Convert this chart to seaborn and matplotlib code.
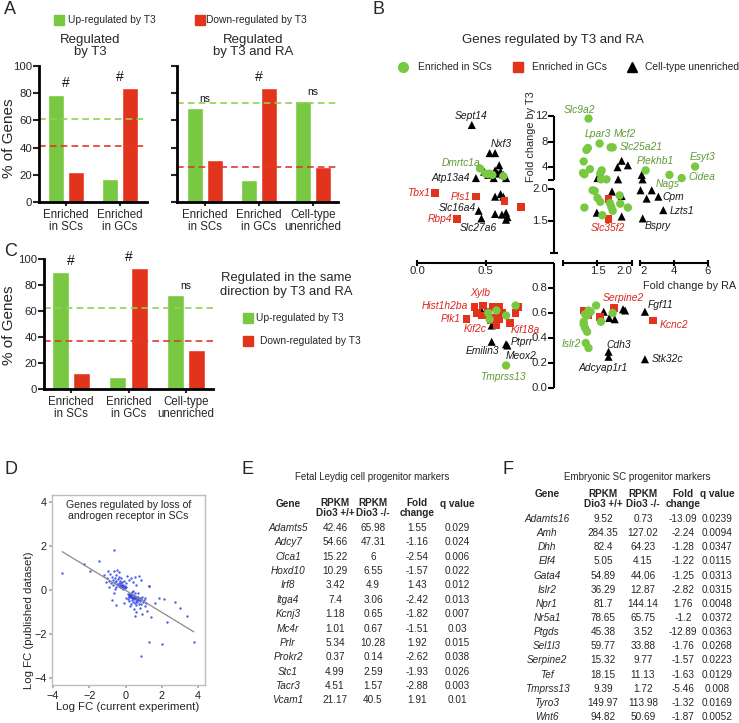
import numpy as np
import pandas as pd
import matplotlib
matplotlib.use("Agg")
import matplotlib.pyplot as plt
from matplotlib.lines import Line2D
import seaborn as sns

sns.set_theme(style="white")
plt.rcParams["font.family"] = ["Liberation Sans", "DejaVu Sans"]

# ---------------- DATA ----------------
GREEN = "#78c841"
RED = "#e2341d"
TXT_G = "#5e9a35"
TXT_R = "#d9261c"

# Panel A
a_cats = ["Enriched\nin SCs", "Enriched\nin GCs"]
a_up = [79, 17]
a_down = [22, 84]
a_base = [61, 41]
a_marks = ["#", "#"]

ar_cats = ["Enriched\nin SCs", "Enriched\nin GCs", "Cell-type\nunenriched"]
ar_up = [69, 16, 74]
ar_down = [31, 84, 26]
ar_base = [72.5, 26]
ar_marks = ["ns", "#", "ns"]

# Panel C
c_cats = ["Enriched\nin SCs", "Enriched\nin GCs", "Cell-type\nunenriched"]
c_up = [90, 9, 72]
c_down = [12, 93, 30]
c_base = [62, 37]
c_marks = ["#", "#", "ns"]

# Panel B (fold change by RA, fold change by T3)
sc_ra = [0.46, 0.50, 0.52, 0.53, 0.55, 0.63,
         1.37, 1.53, 1.69, 1.72, 1.34, 1.36, 1.30, 1.39, 1.29, 1.31, 1.56, 1.54, 1.63, 1.55,
         2.33, 3.73, 5.24, 4.45,
         1.43, 1.46, 1.54, 1.31, 1.68, 1.70, 1.72, 1.82, 1.83, 1.94, 1.57, 1.50,
         0.52, 0.53, 0.65, 0.72, 0.58, 0.65,
         1.48, 1.37, 1.40, 1.32, 1.35, 1.30, 1.30, 1.32, 1.35, 1.55, 1.72, 1.33, 1.37]
sc_t3 = [3.8, 3.0, 2.9, 3.0, 2.8, 2.6,
         11.6, 7.7, 7.1, 7.1, 6.7, 7.0, 4.9, 3.7, 3.1, 2.9, 3.5, 3.0, 2.1, 2.1,
         3.5, 2.8, 4.1, 2.3,
         1.98, 1.97, 1.80, 1.71, 1.78, 1.72, 1.66, 1.90, 1.77, 1.71, 1.59, 1.86,
         0.60, 0.55, 0.58, 0.66, 0.62, 0.18,
         0.66, 0.62, 0.61, 0.59, 0.58, 0.53, 0.51, 0.48, 0.45, 0.53, 0.60, 0.36, 0.32]
gc_ra = [0.13, 0.43, 0.29, 0.64, 0.76,
         1.66, 1.66,
         0.42, 0.36, 0.48, 0.44, 0.50, 0.55, 0.58, 0.60, 0.52, 0.56, 0.62, 0.54, 0.60,
         0.58, 0.68, 0.74, 0.72, 0.47,
         1.30, 1.74, 1.54, 1.36, 2.75]
gc_t3 = [1.94, 1.88, 1.53, 1.81, 1.72,
         1.84, 1.53,
         0.65, 0.55, 0.66, 0.60, 0.58, 0.65, 0.64, 0.65, 0.61, 0.56, 0.60, 0.54, 0.55,
         0.50, 0.52, 0.65, 0.60, 0.58,
         0.62, 0.64, 0.57, 0.58, 0.54]
un_ra = [0.40, 0.53, 0.57, 0.43, 0.49, 0.52, 0.57, 0.60, 0.61, 0.63, 0.65, 0.56, 0.59,
         0.45, 0.47, 0.57, 0.61, 0.63, 0.57, 0.62, 0.65, 0.66, 0.65,
         1.50, 1.79, 1.85, 1.94, 1.80, 2.10, 2.15,
         2.03, 2.69, 2.39, 3.08, 3.37, 2.16, 1.71, 1.85, 1.49, 1.85,
         0.545, 0.545, 0.65, 0.66, 0.47,
         1.59, 1.67, 1.75, 1.87, 1.90, 2.29, 1.66, 1.66, 2.29]
un_t3 = [10.6, 6.2, 6.2, 2.3, 3.3, 2.8, 3.5, 4.3, 3.3, 2.8, 2.3, 2.3, 3.0,
         1.66, 1.54, 1.88, 1.92, 1.88, 1.61, 1.60, 1.63, 1.56, 1.52,
         2.3, 4.0, 5.0, 4.3, 2.1, 2.8, 2.1,
         1.98, 1.98, 1.85, 1.88, 1.67, 1.54, 1.96, 1.89, 1.63, 1.57,
         0.50, 0.37, 0.35, 0.34, 0.62,
         0.61, 0.56, 0.55, 0.63, 0.62, 0.61, 0.29, 0.25, 0.23]

# gene labels of panel B: (name, colour, x px, y px)
b_labels = [
    ("Sept14", "k", 471, 116), ("Nxf3", "k", 501, 144), ("Dmrtc1a", TXT_G, 461, 163),
    ("Atp13a4", "k", 451, 178), ("Tbx1", TXT_R, 419, 193), ("Pls1", TXT_R, 461, 197),
    ("Slc16a4", "k", 457, 208), ("Rbp4", TXT_R, 440, 219), ("Slc27a6", "k", 478, 228),
    ("Slc9a2", TXT_G, 579, 110), ("Lpar3", TXT_G, 598, 134), ("Mcf2", TXT_G, 625, 134),
    ("Slc25a21", TXT_G, 641, 147), ("Plekhb1", TXT_G, 655, 161), ("Esyt3", TXT_G, 703, 157),
    ("Cidea", TXT_G, 702, 177), ("Nags", TXT_G, 668, 184), ("Cpm", "k", 673, 197),
    ("Lzts1", "k", 682, 211), ("Bspry", "k", 658, 226), ("Slc35f2", TXT_R, 608, 228),
    ("Xylb", TXT_R, 480, 293), ("Hist1h2ba", TXT_R, 445, 306), ("Plk1", TXT_R, 451, 319),
    ("Kif2c", TXT_R, 475, 329), ("Kif18a", TXT_R, 525, 330), ("Ptprr", "k", 522, 342),
    ("Emilin3", "k", 483, 351), ("Meox2", "k", 521, 356), ("Tmprss13", TXT_G, 503, 377),
    ("Islr2", TXT_G, 571, 344), ("Serpine2", TXT_R, 623, 298), ("Fgf11", "k", 661, 305),
    ("Kcnc2", TXT_R, 674, 325), ("Cdh3", "k", 619, 345), ("Adcyap1r1", "k", 603, 368),
    ("Stk32c", "k", 667, 359),
]

# Panel D
d_x = [-1.0, -0.9, -0.85, -0.8, -0.75, -0.7, -0.68, -0.65, -0.6, -0.58, -0.55, -0.52, -0.5, -0.48,
       -0.45, -0.42, -0.4, -0.38, -0.36, -0.35, -0.33, -0.31, -0.3, -0.28, -0.27, -0.25, -0.24,
       -0.22, -0.2, -0.19, -0.17, -0.15, -0.14, -0.12, -0.1, -0.08, -0.05, -0.03, 0.0, 0.05,
       -0.6, -0.9, -1.1, -0.95, -0.35,
       0.1, 0.3, 0.5, 0.75, 0.85, 0.4, 0.6, 1.3, 0.2,
       0.15, 0.18, 0.2, 0.22, 0.24, 0.25, 0.26, 0.28, 0.3, 0.32, 0.34, 0.36, 0.38, 0.4, 0.42,
       0.44, 0.46, 0.48, 0.5, 0.52, 0.54, 0.56, 0.58, 0.6, 0.62, 0.64, 0.66, 0.68, 0.7, 0.72,
       0.75, 0.78, 0.8, 0.82, 0.85, 0.88, 0.9, 0.95, 1.0, 1.05, 1.1, 1.15, 0.3, 0.45, 0.6,
       0.35, 0.5, 0.7, 0.2, 0.9, 1.2, 0.55, 0.25, 0.15, 0.4,
       -3.49, -2.26, -1.96, -1.47, -0.64, -1.2, -0.73, -0.55, -0.64, 1.28, 2.0, 0.86, 3.76,
       3.4, 3.0, 2.7, 2.3, 2.1, 1.83, 1.41, 1.28, 1.6, -0.1, 0.0]
d_y = [0.55, 0.4, 0.75, 0.3, 0.6, 0.45, 0.25, 0.85, 0.35, 0.55, 0.15, 0.7, 0.4, 0.28,
       0.9, 0.5, 0.22, 0.32, 0.6, 0.18, 0.25, 0.12, 0.42, 0.2, 0.3, 0.15, 0.55,
       0.22, 0.1, 0.35, 0.18, 0.25, 0.05, 0.15, 0.4, 0.12, 0.2, 0.08, 0.3, 0.15,
       0.05, 0.15, 0.35, 0.85, 0.8,
       0.65, 0.55, 0.6, 0.62, 0.45, 0.35, 0.25, 0.2, 0.45,
       -0.2, -0.28, -0.22, -0.3, -0.25, -0.18, -0.32, -0.24, -0.28, -0.2, -0.35, -0.3, -0.45,
       -0.25, -0.38, -0.55, -0.3, -0.42, -0.35, -0.6, -0.28, -0.48, -0.38, -0.7, -0.32, -0.45,
       -0.55, -0.4, -0.3, -0.62, -0.45, -0.35, -0.8, -0.5, -0.4, -0.65, -0.3, -0.55, -0.45,
       -0.75, -0.38, -0.6, -0.65, -0.85, -1.0,
       -0.1, -0.15, -0.12, -0.5, -1.1, -0.95, -1.2, -0.75, -0.4, -0.05,
       0.76, 1.17, 0.86, 1.32, 1.82, 0.7, -0.45, -0.68, -0.15, -2.35, -2.45, -3.0, -2.35,
       -1.2, -0.8, -0.56, -1.44, -0.42, -0.38, -1.21, 0.18, -0.6, -0.6, -0.35]

# Panel E table
e_genes = ["Adamts5", "Adcy7", "Clca1", "Hoxd10", "Irf8", "Itga4", "Kcnj3", "Mc4r", "Prlr",
           "Prokr2", "Stc1", "Tacr3", "Vcam1"]
e_wt = [42.46, 54.66, 15.22, 10.29, 3.42, 7.4, 1.18, 1.01, 5.34, 0.37, 4.99, 4.51, 21.17]
e_ko = [65.98, 47.31, 6, 6.55, 4.9, 3.06, 0.65, 0.67, 10.28, 0.14, 2.59, 1.57, 40.5]
e_fc = [1.55, -1.16, -2.54, -1.57, 1.43, -2.42, -1.82, -1.51, 1.92, -2.62, -1.93, -2.88, 1.91]
e_q = [0.029, 0.024, 0.006, 0.022, 0.012, 0.013, 0.007, 0.03, 0.015, 0.038, 0.026, 0.003, 0.01]

# Panel F table
f_genes = ["Adamts16", "Amh", "Dhh", "Elf4", "Gata4", "Islr2", "Npr1", "Nr5a1", "Ptgds",
           "Sel1l3", "Serpine2", "Tef", "Tmprss13", "Tyro3", "Wnt6"]
f_wt = [9.52, 284.35, 82.4, 5.05, 54.89, 36.29, 81.7, 78.65, 45.38, 59.77, 15.32, 18.15, 9.39,
        149.97, 94.82]
f_ko = [0.73, 127.02, 64.23, 4.15, 44.06, 12.87, 144.14, 65.75, 3.52, 33.88, 9.77, 11.13, 1.72,
        113.98, 50.69]
f_fc = [-13.09, -2.24, -1.28, -1.22, -1.25, -2.82, 1.76, -1.2, -12.89, -1.76, -1.57, -1.63,
        -5.46, -1.32, -1.87]
f_q = [0.0239, 0.0094, 0.0347, 0.0115, 0.0313, 0.0315, 0.0048, 0.0372, 0.0363, 0.0268, 0.0223,
       0.0129, 0.008, 0.0169, 0.0052]

# ---------------- FIGURE ----------------
W, H = 739, 723
fig = plt.figure(figsize=(W / 100, H / 100), dpi=100)


def box(x0, y0, x1, y1):
    return [x0 / W, 1 - y1 / H, (x1 - x0) / W, (y1 - y0) / H]


def ftext(x, y, s, **kw):
    kw.setdefault("va", "center")
    kw.setdefault("ha", "center")
    fig.text(x / W, 1 - y / H, s, **kw)


def fmark(x, y, marker, color, ms):
    fig.add_artist(Line2D([x / W], [1 - y / H], marker=marker, color=color, ms=ms,
                          ls="none", mec=color, transform=fig.transFigure))


def bars(ax, cats, up, down, base, marks, xlim, ylabels=True):
    df = pd.DataFrame({"cat": cats * 2,
                       "dir": ["Up"] * len(cats) + ["Down"] * len(cats),
                       "pct": up + down})
    sns.barplot(data=df, x="cat", y="pct", hue="dir", hue_order=["Up", "Down"],
                palette=[GREEN, RED], width=0.74, gap=0.2, saturation=1,
                ax=ax, legend=False)
    ax.axhline(base[0], color="#8ed24f", ls=(0, (4, 2.5)), lw=1.2)
    ax.axhline(base[1], color="#e03a2a", ls=(0, (4, 2.5)), lw=1.2)
    for i, (u, d, m) in enumerate(zip(up, down, marks)):
        ax.text(i, max(u, d) + 3, m, ha="center", va="bottom",
                fontsize=10 if m == "#" else 7.5, color="#111")
    ax.set_xlim(*xlim)
    ax.set_ylim(0, 100)
    ax.set_yticks([0, 20, 40, 60, 80, 100])
    if not ylabels:
        ax.set_yticklabels([])
    ax.set_xlabel("")
    ax.set_ylabel("")
    for s in ["top", "right"]:
        ax.spines[s].set_visible(False)
    for s in ["left", "bottom"]:
        ax.spines[s].set_color("black")
        ax.spines[s].set_linewidth(2)
    ax.tick_params(axis="y", direction="out", length=4, width=1.5, labelsize=8.2, pad=1,
                   left=True)
    ax.tick_params(axis="x", direction="out", length=3, width=1.5, labelsize=8.3, pad=2,
                   bottom=True)
    for t in ax.get_xticklabels():
        t.set_linespacing(1.05)
    ax.patch.set_alpha(0)


# ---- Panel A ----
axA1 = fig.add_axes(box(39, 66, 147, 202))
bars(axA1, a_cats, a_up, a_down, a_base, a_marks, (-0.5, 1.5))
axA2 = fig.add_axes(box(177, 66, 338, 202))
bars(axA2, ar_cats, ar_up, ar_down, ar_base, ar_marks, (-0.52, 2.46), ylabels=False)
ftext(4, 10, "A", fontsize=13, ha="left")
fmark(59, 20, "s", GREEN, 6.5)
ftext(68, 20, "Up-regulated by T3", fontsize=7.4, ha="left")
fmark(200, 20, "s", RED, 6.5)
ftext(206, 20, "Down-regulated by T3", fontsize=7.4, ha="left")
ftext(90, 46, "Regulated\nby T3", fontsize=9.5, linespacing=1.1)
ftext(253, 46, "Regulated\nby T3 and RA", fontsize=9.5, linespacing=1.1)
ftext(9, 138, "% of Genes", fontsize=11, rotation=90)

# ---- Panel C ----
axC = fig.add_axes(box(44, 259, 213, 389))
bars(axC, c_cats, c_up, c_down, c_base, c_marks, (-0.47, 2.47))
ftext(4, 252, "C", fontsize=13, ha="left")
ftext(9, 325, "% of Genes", fontsize=11, rotation=90)
ftext(286, 285, "Regulated in the same\ndirection by T3 and RA", fontsize=9.4, linespacing=1.2)
fmark(248, 318, "s", GREEN, 6.5)
ftext(256, 318, "Up-regulated by T3", fontsize=7.4, ha="left")
fmark(248, 341, "s", RED, 6.5)
ftext(260, 341, "Down-regulated by T3", fontsize=7.4, ha="left")

# ---- Panel B ----
XB = np.array([-10, 0, 1, 1.0001, 2, 2.0001, 6, 30])
XP = np.array([417 - 1370, 417, 554, 563, 632, 640, 708, 708 + 24 * 17])
YB = np.array([-10, 0, 1, 1.0001, 2, 2.0001, 12, 40])
YP = np.array([-1250, 0, 125, 135, 199, 208, 272, 272 + 28 * 6.4])


def fx(v):
    return np.interp(v, XB, XP)


def fx_inv(p):
    return np.interp(p, XP, XB)


def fy(v):
    return np.interp(v, YB, YP)


def fy_inv(p):
    return np.interp(p, YP, YB)


axB = fig.add_axes(box(405, 100, 725, 395))
axB.set_xscale("function", functions=(fx, fx_inv))
axB.set_yscale("function", functions=(fy, fy_inv))
sns.scatterplot(x=un_ra, y=un_t3, marker="^", color="black", s=34, edgecolor="none", ax=axB)
sns.scatterplot(x=gc_ra, y=gc_t3, marker="s", color=RED, s=30, edgecolor="none", ax=axB)
sns.scatterplot(x=sc_ra, y=sc_t3, marker="o", color=GREEN, s=36, edgecolor="none", ax=axB)
axB.set_xlim(-0.0876, 7.0)
axB.set_ylim(-0.056, 14.5)
axB.axis("off")

lk = dict(color="black", lw=1.5, solid_capstyle="butt", clip_on=False)
# x axis segments
for a, b in [(0, 1.0), (1.0001, 2.0), (2.0001, 6)]:
    axB.plot([a, b], [1.0, 1.0], **lk)
axB.plot([0, 0.5, 1.0001, 1.5, 2.0, 2.0001, 4, 6], [1.0] * 8, ls="none", marker="|",
         ms=5, mew=1.5, color="black", clip_on=False)
for xv, lab in [(0, "0.0"), (0.5, "0.5"), (1.5, "1.5"), (2.0, "2.0"), (2.0001, "2"),
                (4, "4"), (6, "6")]:
    ha = "center"
    if lab == "2.0":
        ha = "right"
    elif lab == "2":
        ha = "left"
    axB.annotate(lab, (xv, 1.0), xytext=(0, -2.5), textcoords="offset points",
                 ha=ha, va="top", fontsize=8.2)
# y axis segments
for a, b in [(0, 1.0), (1.0001, 2.0), (2.0001, 12)]:
    axB.plot([1.0, 1.0], [a, b], **lk)
axB.plot([1.0] * 10, [0, 0.2, 0.4, 0.6, 0.8, 1.5, 2.0, 4, 8, 12], ls="none", marker=0,
         ms=4, mew=1.5, color="black", clip_on=False)
axB.plot([1.0], [1.0001], ls="none", marker="_", ms=6, mew=1.5, color="black")
axB.plot([1.0], [2.0001], ls="none", marker=0, ms=4, mew=1.5, color="black")
for yv, lab in [(0, "0.0"), (0.2, "0.2"), (0.4, "0.4"), (0.6, "0.6"), (0.8, "0.8"),
                (1.5, "1.5"), (2.0, "2.0"), (4, "4"), (8, "8"), (12, "12")]:
    axB.annotate(lab, (1.0, yv), xytext=(-4.5, 0), textcoords="offset points",
                 ha="right", va="center", fontsize=8.2)

for name, col, xp, yp in b_labels:
    ftext(xp, yp, name, fontsize=7.4, style="italic", color=col)

ftext(372, 10, "B", fontsize=13, ha="left")
ftext(553, 40, "Genes regulated by T3 and RA", fontsize=9.5)
fmark(403, 67, "o", GREEN, 7)
ftext(418, 67, "Enriched in SCs", fontsize=7.4, ha="left")
fmark(518, 67, "s", RED, 6.5)
ftext(532, 67, "Enriched in GCs", fontsize=7.4, ha="left")
fmark(632, 67, "^", "black", 7.5)
ftext(645, 67, "Cell-type unenriched", fontsize=7.4, ha="left")
ftext(531, 137, "Fold change by T3", fontsize=7.8, rotation=90)
ftext(690, 286, "Fold change by RA", fontsize=7.8)

# ---- Panel D ----
axD = fig.add_axes(box(52, 495, 205, 685))
sns.regplot(x=d_x, y=d_y, ax=axD, ci=None,
            scatter_kws=dict(s=3, color="#3044e4", alpha=0.85, linewidths=0),
            line_kws=dict(color="#8a8a8a", lw=0.9))
axD.set_xlim(-4.05, 4.38)
axD.set_ylim(-4.32, 4.32)
axD.set_xticks([-4, -2, 0, 2, 4])
axD.set_yticks([-4, -2, 0, 2, 4])
for s in axD.spines.values():
    s.set_color("#bdbdbd")
    s.set_linewidth(1)
axD.tick_params(length=2, color="#aaaaaa", labelsize=7.8, labelcolor="#222222", pad=2,
                left=True, bottom=True)
axD.text(0.5, 0.92, "Genes regulated by loss of\nandrogen receptor in SCs",
         transform=axD.transAxes, ha="center", va="center", fontsize=7.6, linespacing=1.15)
axD.set_xlabel("")
axD.set_ylabel("")
ftext(128, 707, "Log FC (current experiment)", fontsize=8.2)
ftext(29, 620, "Log FC (published dataset)", fontsize=8.2, rotation=90)
ftext(4, 470, "D", fontsize=13, ha="left")

# ---- Panel E ----
TF = 7.2
ftext(242, 470, "E", fontsize=13, ha="left")
ftext(372, 477, "Fetal Leydig cell progenitor markers", fontsize=7)
e_cols = [288, 335, 373, 417, 457]
ftext(e_cols[0], 504, "Gene", fontsize=TF, weight="bold")
ftext(e_cols[1], 503, "RPKM", fontsize=TF, weight="bold")
ftext(e_cols[1], 513, "Dio3 +/+", fontsize=TF, weight="bold")
ftext(e_cols[2], 503, "RPKM", fontsize=TF, weight="bold")
ftext(e_cols[2], 513, "Dio3 -/-", fontsize=TF, weight="bold")
ftext(e_cols[3], 503, "Fold", fontsize=TF, weight="bold")
ftext(e_cols[3], 513, "change", fontsize=TF, weight="bold")
ftext(e_cols[4], 504, "q value", fontsize=TF, weight="bold")
for i, g in enumerate(e_genes):
    yy = 528 + i * 14.36
    ftext(e_cols[0], yy, g, fontsize=TF, style="italic")
    for c, v in zip(e_cols[1:], [e_wt[i], e_ko[i], e_fc[i], e_q[i]]):
        ftext(c, yy, f"{v:g}", fontsize=TF)

# ---- Panel F ----
ftext(502, 470, "F", fontsize=13, ha="left")
ftext(637, 477, "Embryonic SC progenitor markers", fontsize=7)
f_cols = [547, 603, 643, 683, 717]
ftext(f_cols[0], 494, "Gene", fontsize=TF, weight="bold")
ftext(f_cols[1], 494, "RPKM", fontsize=TF, weight="bold")
ftext(f_cols[1], 504, "Dio3 +/+", fontsize=TF, weight="bold")
ftext(f_cols[2], 494, "RPKM", fontsize=TF, weight="bold")
ftext(f_cols[2], 504, "Dio3 -/-", fontsize=TF, weight="bold")
ftext(f_cols[3], 494, "Fold", fontsize=TF, weight="bold")
ftext(f_cols[3], 504, "change", fontsize=TF, weight="bold")
ftext(f_cols[4], 494, "q value", fontsize=TF, weight="bold")
for i, g in enumerate(f_genes):
    yy = 519 + i * 14.14
    ftext(f_cols[0], yy, g, fontsize=TF, style="italic")
    for c, v in zip(f_cols[1:], [f_wt[i], f_ko[i], f_fc[i], f_q[i]]):
        ftext(c, yy, f"{v:g}", fontsize=TF)

fig.savefig("out.png", dpi=100)
